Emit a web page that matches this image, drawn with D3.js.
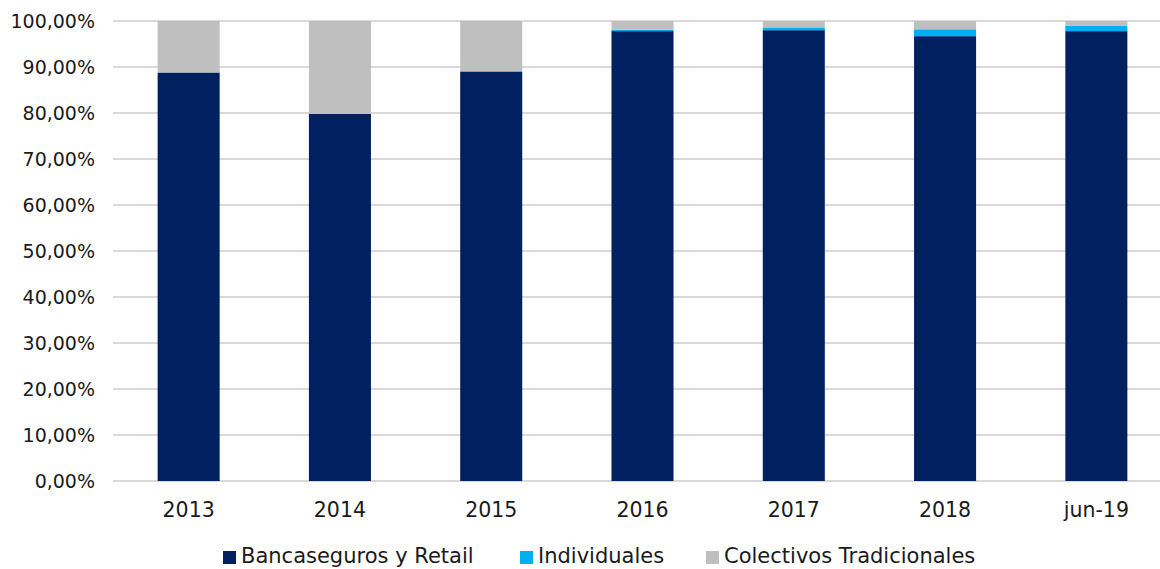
<!DOCTYPE html>
<html>
<head>
<meta charset="utf-8">
<script src="https://cdn.jsdelivr.net/npm/d3@7"></script>
<style>
    body { margin: 0; background: #fff; }
    text { font-family: "DejaVu Sans", Verdana, sans-serif; fill: #1a1a1a; }
</style>
</head>
<body>
<svg width="1160" height="569"></svg>
<script>
// categories and stacked shares (in %)
const categories = ['2013', '2014', '2015', '2016', '2017', '2018', 'jun-19'];
const bancaseguros = [88.8, 79.8, 89.0, 97.8, 98.0, 96.7, 97.8];
const individuales = [0.0, 0.0, 0.1, 0.3, 0.6, 1.5, 1.2];
const colectivos = [11.2, 20.2, 10.9, 1.9, 1.4, 1.8, 1.0];
const seriesNames = ['Bancaseguros y Retail', 'Individuales', 'Colectivos Tradicionales'];
const colors = ['#002060', '#00B0F0', '#BFBFBF'];
const yTicks = [0, 10, 20, 30, 40, 50, 60, 70, 80, 90, 100];

const rows = categories.map((c, i) => ({
    cat: c, s0: bancaseguros[i], s1: individuales[i], s2: colectivos[i],
}));

const svg = d3.select('svg');
const plotLeft = 113;
const plotTop = 21;
const plotBottom = 481;

const x = d3.scaleBand()
    .domain(categories)
    .range([plotLeft, 1172])
    .paddingInner(0.59)
    .paddingOuter(0.295);

const y = d3.scaleLinear()
    .domain([0, 100])
    .range([plotBottom, plotTop]);

// gridlines
svg.append('g').selectAll('line')
    .data(yTicks)
    .enter()
    .append('line')
    .attr('x1', plotLeft)
    .attr('x2', 1160)
    .attr('y1', d => y(d))
    .attr('y2', d => y(d))
    .attr('stroke', '#d9d9d9')
    .attr('stroke-width', 2);

// y labels
svg.append('g').selectAll('text')
    .data(yTicks)
    .enter()
    .append('text')
    .attr('x', 95)
    .attr('y', d => y(d))
    .attr('dy', '0.36em')
    .attr('text-anchor', 'end')
    .style('font-size', '19px')
    .text(d => d3.format('.2f')(d).replace('.', ',') + '%');

const stack = d3.stack().keys(['s0', 's1', 's2']);
const layers = stack(rows);

svg.append('g').selectAll('g')
    .data(layers)
    .enter()
    .append('g')
    .attr('fill', (d, i) => colors[i])
    .selectAll('rect')
    .data(d => d)
    .enter()
    .append('rect')
    .attr('x', d => x(d.data.cat))
    .attr('width', x.bandwidth())
    .attr('y', d => y(d[1]))
    .attr('height', d => y(d[0]) - y(d[1]));

// x labels
svg.append('g').selectAll('text')
    .data(categories)
    .enter()
    .append('text')
    .attr('x', d => x(d) + x.bandwidth() / 2)
    .attr('y', 517)
    .attr('text-anchor', 'middle')
    .style('font-size', '20.5px')
    .text(d => d);

// legend
const legendX = [223, 520, 706];
const legend = svg.append('g').selectAll('g')
    .data(seriesNames)
    .enter()
    .append('g')
    .attr('transform', (d, i) => `translate(${legendX[i]},551)`);

legend.append('rect')
    .attr('width', 13)
    .attr('height', 13)
    .attr('fill', (d, i) => colors[i]);

legend.append('text')
    .attr('x', 18)
    .attr('y', 12)
    .style('font-size', '21px')
    .text(d => d);
</script>
</body>
</html>
